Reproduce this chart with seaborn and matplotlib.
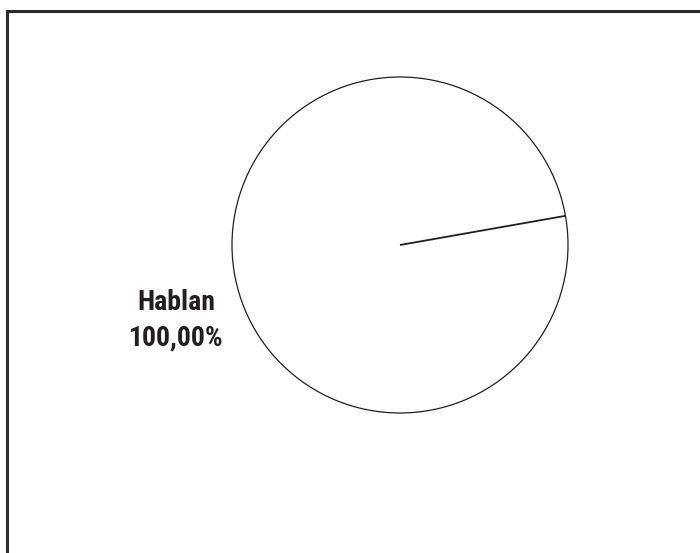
import matplotlib
matplotlib.use("Agg")
import numpy as np
import matplotlib.pyplot as plt
import seaborn as sns
from matplotlib.patches import Rectangle

# data
categories = ["Hablan"]
values = [100.0]
start_angle = 10

sns.set_theme(style="white")
plt.rcParams["font.family"] = ["Roboto Condensed", "Liberation Sans Narrow",
                               "Liberation Sans", "DejaVu Sans"]

fig = plt.figure(figsize=(7, 5.53), dpi=100)
fig.patch.set_facecolor("white")

# pie radius ~168px, centre at (400, 245) px
half = 1.4
side = 2 * half * 168
ax = fig.add_axes([(400 - side / 2) / 700, (553 - 245 - side / 2) / 553,
                   side / 700, side / 553])

ink = "#231f20"
wedges, _ = ax.pie(values, startangle=start_angle, colors=["white"],
                   wedgeprops=dict(edgecolor=ink, linewidth=0.9))
# a full 360 wedge has no radial edge, draw it from the start angle
a = np.deg2rad(start_angle)
ax.plot([0, np.cos(a)], [0, np.sin(a)], color=ink, lw=1.3,
        solid_capstyle="butt")
ax.set_xlim(-half, half)
ax.set_ylim(-half, half)
ax.set_aspect("equal")
ax.axis("off")

total = sum(values)
for cat, v in zip(categories, values):
    pct = f"{v / total * 100:.2f}".replace(".", ",") + "%"
    ax.text(-1.333, -0.446, f"{cat}\n{pct}", ha="center", va="center",
            fontsize=20, fontweight="bold", color=ink, linespacing=1.4)

# frame around the figure (only left and top edges show)
fig.patches.append(Rectangle((7 / 700, -0.1), 1.2, 1 - 11 / 553 + 0.1,
                             transform=fig.transFigure, fill=False,
                             edgecolor="#2b2b2b", linewidth=2.2))

fig.savefig("out.png", dpi=100)
